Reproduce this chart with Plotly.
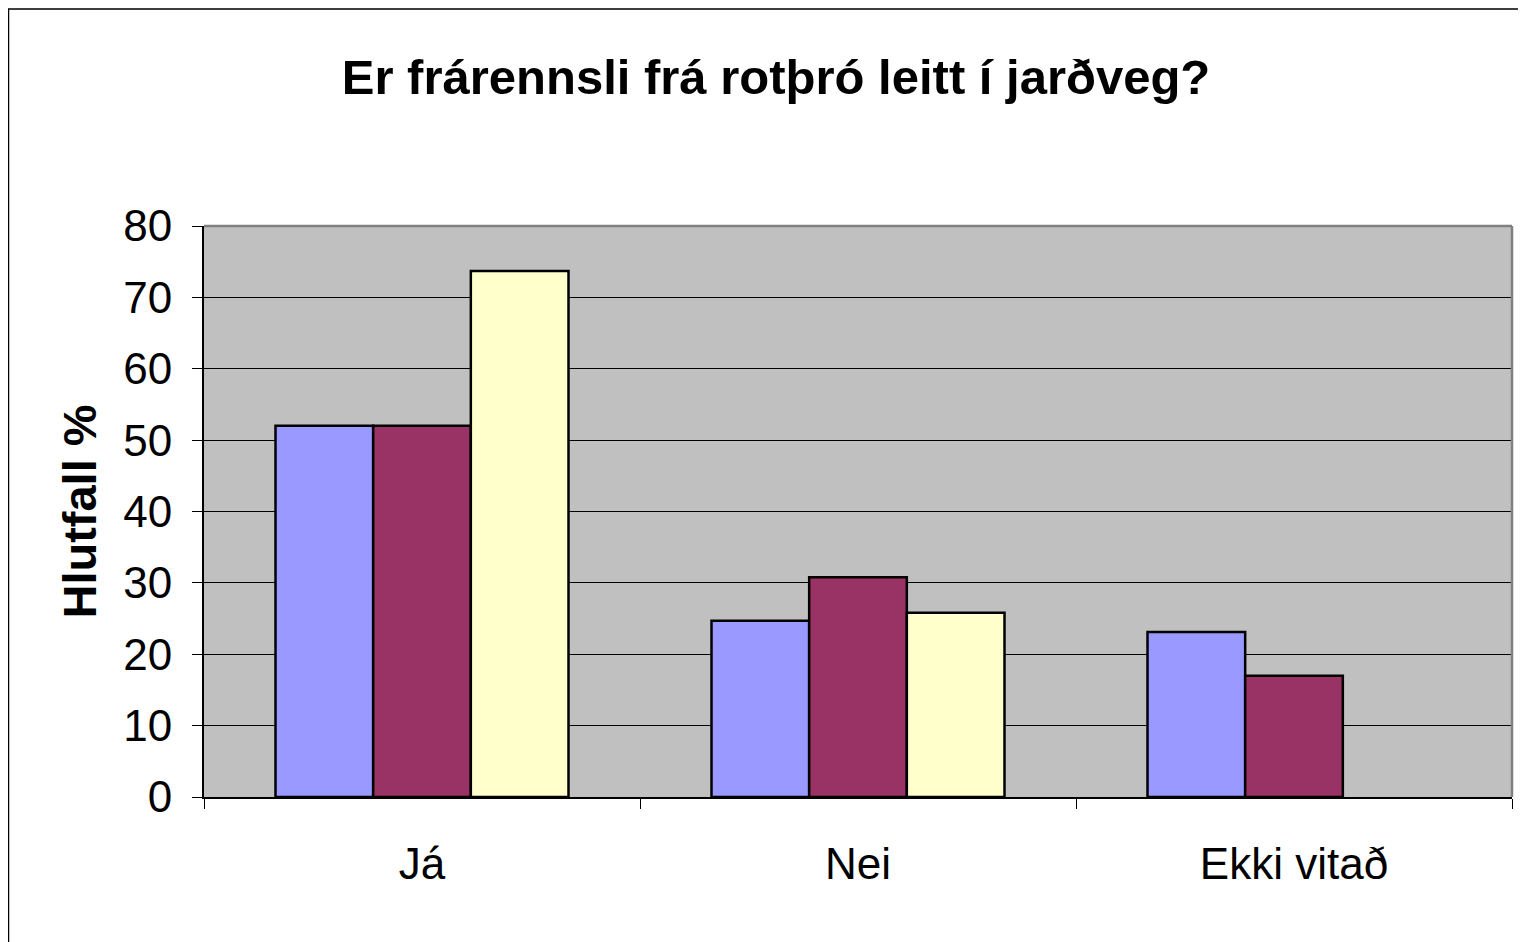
import plotly.graph_objects as go

categories = ["Já", "Nei", "Ekki vitað"]
series_a = [52, 24.7, 23.1]
series_b = [52, 30.8, 17]
series_c = [73.7, 25.8, None]
y_ticks = [0, 10, 20, 30, 40, 50, 60, 70, 80]

colors = ["#9999FF", "#993366", "#FFFFCC"]
names = ["Series 1", "Series 2", "Series 3"]

fig = go.Figure()
for vals, col, nm in zip([series_a, series_b, series_c], colors, names):
    fig.add_trace(go.Bar(x=categories, y=vals, name=nm,
                         marker=dict(color=col, line=dict(color="black", width=2.5))))

FONT = "Liberation Sans, Arial, sans-serif"
# page body has an 8px margin, so the figure is 8px smaller and offset
W, H = 1518, 934
L, T, R, B = 196, 218, 14, 145
fig.update_layout(
    width=W, height=H,
    margin=dict(l=L, r=R, t=T, b=B),
    paper_bgcolor="white", plot_bgcolor="#C0C0C0",
    showlegend=False,
    barmode="group", bargap=0.328, bargroupgap=0,
    title=dict(text="<b>Er frárennsli frá rotþró leitt í jarðveg?</b>",
               x=(776 - 8) / W, xanchor="center", y=1 - (77 - 8) / H, yanchor="middle",
               font=dict(family=FONT, size=49, color="black")),
    font=dict(family=FONT, color="black"),
)
fig.update_yaxes(range=[0, 80], tickvals=y_ticks, showgrid=True, gridcolor="black", gridwidth=1,
                 showline=True, linecolor="black", linewidth=2, ticks="outside", ticklen=10,
                 tickcolor="black", tickfont=dict(size=44, family=FONT), ticklabelstandoff=11,
                 title=dict(text="<b>Hlutfall %</b>", font=dict(size=47, family=FONT), standoff=12),
                 zeroline=False)
fig.update_xaxes(showline=True, linecolor="black", linewidth=2, ticks="outside", ticklen=10,
                 tickcolor="black", tickson="boundaries", tickfont=dict(size=44, family=FONT),
                 ticklabelstandoff=27)
# gray top/right frame of plot area
fig.add_shape(type="line", xref="paper", yref="paper", x0=0, x1=1, y0=1, y1=1,
              line=dict(color="#808080", width=2.5))
fig.add_shape(type="line", xref="paper", yref="paper", x0=1, x1=1, y0=0, y1=1,
              line=dict(color="#808080", width=2.5))
# outer chart border (left/top visible)
pw = W - L - R
ph = H - T - B
fig.add_shape(type="rect", xref="paper", yref="paper",
              x0=(0.5 - L) / pw, x1=(W + 20 - L) / pw,
              y0=-(B + 20) / ph, y1=(ph + T - 1) / ph,
              line=dict(color="black", width=1.5), fillcolor="rgba(0,0,0,0)", layer="below")

fig.write_html("out.html")
